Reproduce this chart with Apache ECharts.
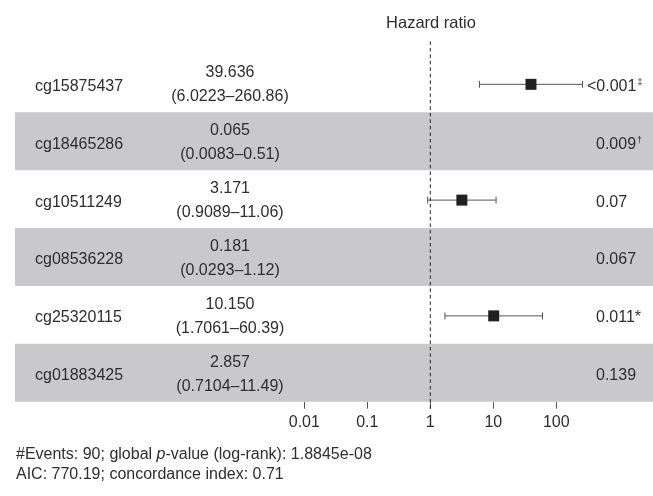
<!DOCTYPE html>
<html>
<head>
<meta charset="utf-8">
<script src="https://cdn.jsdelivr.net/npm/echarts@6/dist/echarts.min.js"></script>
<style>
html,body{margin:0;padding:0;background:#fff;}
#chart{width:653px;height:496px;}
</style>
</head>
<body>
<div id="chart"></div>
<script>
// ---- data ----
const genes = ['cg15875437', 'cg18465286', 'cg10511249', 'cg08536228', 'cg25320115', 'cg01883425'];
const hazardRatios = [39.636, 0.065, 3.171, 0.181, 10.150, 2.857];
const ciLow = [6.0223, 0.0083, 0.9089, 0.0293, 1.7061, 0.7104];
const ciHigh = [260.86, 0.51, 11.06, 1.12, 60.39, 11.49];
const pValues = ['<0.001', '0.009', '0.07', '0.067', '0.011', '0.139'];
const sigMarks = ['‡', '†', '', '', '*', ''];
const xTicks = [0.01, 0.1, 1, 10, 100];
const footerLines = ['#Events: 90; global {i|p}-value (log-rank): 1.8845e-08', 'AIC: 770.19; concordance index: 0.71'];
const axisTitle = 'Hazard ratio';
const refValue = 1;

// ---- style ----
const FONT = '"Liberation Sans", Arial, sans-serif';
const TXT = '#2e2e2e';
const BAND = '#c9c9cb';

const chart = echarts.init(document.getElementById('chart'), null, {renderer: 'canvas'});

const rowIdx = genes.map((g, i) => i);

const option = {
  animation: false,
  backgroundColor: '#fff',
  grid: {left: 304.3, right: 96.7, top: 54.4, bottom: 94.3, containLabel: false},
  xAxis: {
    type: 'log', logBase: 10, min: xTicks[0], max: xTicks[xTicks.length - 1],
    splitLine: {show: false},
    axisLine: {show: false},
    axisTick: {show: true, length: 7, lineStyle: {color: '#555', width: 1}},
    axisLabel: {show: true, margin: 13, color: TXT, fontSize: 16, fontFamily: FONT,
      formatter: v => String(+v.toPrecision(6))}
  },
  yAxis: {
    type: 'category', data: genes, inverse: true,
    show: false
  },
  graphic: [
    {type: 'text', x: 431, y: 23, style: {text: axisTitle, align: 'center', verticalAlign: 'middle',
      font: '16.5px ' + FONT, fill: TXT}},
    {type: 'text', x: 16, y: 455, style: {text: footerLines[0], align: 'left', verticalAlign: 'middle',
      font: '16px ' + FONT, fill: TXT,
      rich: {i: {fontStyle: 'italic', fontSize: 16, fontFamily: FONT, color: TXT}}}},
    {type: 'text', x: 16, y: 475, style: {text: footerLines[1], align: 'left', verticalAlign: 'middle',
      font: '16px ' + FONT, fill: TXT}}
  ],
  series: [
    {
      // error bars + point estimates
      type: 'custom', z: 2, clip: false,
      data: rowIdx.map(i => [hazardRatios[i], i, ciLow[i], ciHigh[i]]),
      renderItem: function (params, api) {
        const c = api.coord([api.value(0), api.value(1)]);
        const lo = api.coord([api.value(2), api.value(1)]);
        const hi = api.coord([api.value(3), api.value(1)]);
        const y = c[1] + 1;
        const lineStyle = {stroke: '#555', lineWidth: 1};
        const cap = 3.5, sq = 11;
        return {type: 'group', children: [
          {type: 'line', shape: {x1: lo[0], y1: y, x2: hi[0], y2: y}, style: lineStyle},
          {type: 'line', shape: {x1: lo[0], y1: y - cap, x2: lo[0], y2: y + cap}, style: lineStyle},
          {type: 'line', shape: {x1: hi[0], y1: y - cap, x2: hi[0], y2: y + cap}, style: lineStyle},
          {type: 'rect', shape: {x: c[0] - sq / 2, y: y - sq / 2, width: sq, height: sq}, style: {fill: '#231f20'}}
        ]};
      }
    },
    {
      // alternating grey row bands
      type: 'custom', z: 3, clip: false,
      data: rowIdx.filter(i => i % 2 === 1).map(i => [refValue, i]),
      renderItem: function (params, api) {
        const c = api.coord([api.value(0), api.value(1)]);
        const h = api.size([0, 1])[1];
        return {type: 'rect', shape: {x: 15, y: c[1] - h / 2, width: 653 - 15, height: h},
          style: {fill: BAND}};
      }
    },
    {
      // reference dashed line at HR = 1
      type: 'custom', z: 4, clip: false,
      data: [[refValue, 0]],
      renderItem: function (params, api) {
        const c = api.coord([api.value(0), 0]);
        const cs = params.coordSys;
        return {type: 'line', shape: {x1: c[0], y1: cs.y - 13, x2: c[0], y2: cs.y + cs.height + 7},
          style: {stroke: '#222', lineWidth: 1, lineDash: [3.5, 3]}};
      }
    },
    {
      // row text columns
      type: 'custom', z: 5, clip: false,
      data: rowIdx.map(i => [refValue, i]),
      renderItem: function (params, api) {
        const i = params.dataIndex;
        const c = api.coord([api.value(0), api.value(1)]);
        const y = c[1];
        const hrText = hazardRatios[i].toFixed(3) + '\n(' + String(ciLow[i]) + '–' + String(ciHigh[i]) + ')';
        const p = pValues[i];
        const mark = sigMarks[i];
        let pText = p;
        if (mark === '‡' || mark === '†') pText = p + '{s|' + mark + '}';
        else if (mark) pText = p + mark;
        const pX = p.charAt(0) === '<' ? 587 : 596;
        return {type: 'group', children: [
          {type: 'text', style: {x: 35, y: y + 3, text: genes[i], align: 'left', verticalAlign: 'middle',
            font: '16px ' + FONT, fill: TXT}},
          {type: 'text', style: {x: 230, y: y + 1.5, text: hrText, align: 'center', verticalAlign: 'middle',
            font: '16px ' + FONT, fill: TXT, lineHeight: 24}},
          {type: 'text', style: {x: pX, y: y + 3, text: pText, align: 'left', verticalAlign: 'middle',
            font: '16px ' + FONT, fill: TXT,
            rich: {s: {fontSize: 9, fontFamily: FONT, fill: TXT, padding: [0, 0, 8, 1]}}}}
        ]};
      }
    }
  ]
};
chart.setOption(option);
</script>
</body>
</html>
